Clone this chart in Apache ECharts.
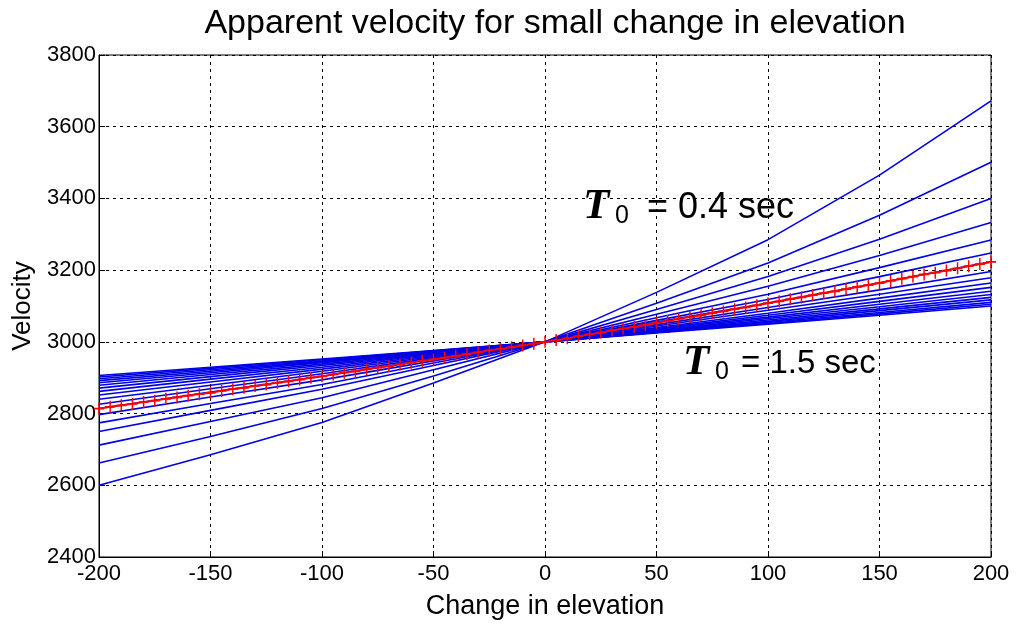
<!DOCTYPE html>
<html>
<head>
<meta charset="utf-8">
<script src="https://cdn.jsdelivr.net/npm/echarts@6/dist/echarts.min.js"></script>
<style>
  html, body { margin: 0; padding: 0; background: #fff; }
  #chart { width: 1017px; height: 625px; }
</style>
</head>
<body>
<div id="chart"></div>
<script>
// elevation change where the blue curves are sampled
const elevations = [-200, -150, -100, -50, 0, 50, 100, 150, 200];

// one blue curve per T0 (sec)
const t0Values = [0.4, 0.5, 0.6, 0.7, 0.8, 0.9, 1.0, 1.1, 1.2, 1.3, 1.4, 1.5, 1.6, 1.7, 1.8, 1.9, 2.0, 2.1];
const blueCurves = [
  [2600, 2685, 2775, 2885, 3000, 3138, 3285, 3465, 3672],
  [2662, 2736, 2814, 2905, 3000, 3108, 3220, 3353, 3501],
  [2712, 2778, 2844, 2922, 3000, 3090, 3182, 3286, 3400],
  [2750, 2809, 2868, 2934, 3000, 3077, 3155, 3241, 3333],
  [2774, 2828, 2881, 2941, 3000, 3067, 3133, 3207, 3284],
  [2797, 2846, 2894, 2947, 3000, 3060, 3118, 3182, 3248],
  [2814, 2860, 2904, 2953, 3000, 3055, 3108, 3165, 3223],
  [2826, 2869, 2911, 2956, 3000, 3048, 3096, 3145, 3196],
  [2840, 2879, 2918, 2959, 3000, 3044, 3088, 3133, 3179],
  [2852, 2888, 2924, 2962, 3000, 3040, 3080, 3122, 3164],
  [2862, 2896, 2929, 2965, 3000, 3037, 3074, 3113, 3152],
  [2871, 2903, 2934, 2967, 3000, 3035, 3069, 3105, 3141],
  [2879, 2909, 2938, 2969, 3000, 3032, 3065, 3098, 3132],
  [2886, 2914, 2942, 2971, 3000, 3030, 3061, 3092, 3124],
  [2892, 2918, 2945, 2972, 3000, 3029, 3057, 3087, 3117],
  [2897, 2922, 2947, 2974, 3000, 3027, 3054, 3082, 3110],
  [2902, 2926, 2950, 2975, 3000, 3026, 3051, 3078, 3105],
  [2906, 2929, 2952, 2976, 3000, 3025, 3049, 3074, 3100]
];

// red reference curve with + markers
const redX = [
  -200, -195, -190, -185, -180, -175, -170, -165, -160, -155,
  -150, -145, -140, -135, -130, -125, -120, -115, -110, -105,
  -100, -95, -90, -85, -80, -75, -70, -65, -60, -55,
  -50, -45, -40, -35, -30, -25, -20, -15, -10, -5,
  0, 5, 10, 15, 20, 25, 30, 35, 40, 45,
  50, 55, 60, 65, 70, 75, 80, 85, 90, 95,
  100, 105, 110, 115, 120, 125, 130, 135, 140, 145,
  150, 155, 160, 165, 170, 175, 180, 185, 190, 195, 200
];
const redY = [
  2814, 2819, 2823, 2827, 2832, 2836, 2841, 2845, 2850, 2854,
  2858, 2863, 2868, 2872, 2877, 2881, 2886, 2890, 2895, 2900,
  2904, 2909, 2914, 2918, 2923, 2928, 2932, 2937, 2942, 2947,
  2951, 2956, 2961, 2966, 2971, 2976, 2980, 2985, 2990, 2995,
  3000, 3005, 3010, 3016, 3021, 3026, 3032, 3037, 3042, 3047,
  3053, 3058, 3064, 3069, 3074, 3080, 3085, 3091, 3096, 3102,
  3108, 3113, 3119, 3124, 3130, 3136, 3141, 3147, 3153, 3158,
  3164, 3170, 3176, 3182, 3188, 3193, 3199, 3205, 3211, 3217, 3223
];

const font = 'Liberation Sans, Arial, sans-serif';

const chart = echarts.init(document.getElementById('chart'), null, { renderer: 'canvas' });

const series = blueCurves.map((vals, i) => ({
  name: 'T0 = ' + t0Values[i],
  type: 'line',
  data: elevations.map((x, j) => [x, vals[j]]),
  showSymbol: false,
  symbol: 'none',
  lineStyle: { color: '#0000e6', width: 1.6 },
  z: 2
}));

series.push({
  name: 'reference',
  type: 'line',
  data: redX.map((x, j) => [x, redY[j]]),
  symbol: 'path://M5,0L5,10M0,5L10,5',
  symbolSize: [10, 12],
  itemStyle: { color: 'none', borderColor: '#ff0000', borderWidth: 1.6 },
  lineStyle: { color: '#ff0000', width: 1.8 },
  z: 3
});

// T0 label: bold italic serif T, subscript 0, then the rest
function t0Label(x, y, rest, size, gap) {
  return {
    type: 'group',
    x: x, y: y,
    children: [
      { type: 'text', x: 0, y: -1, style: { text: 'T', font: 'italic bold 43px Liberation Serif', fill: '#000', textVerticalAlign: 'middle' } },
      { type: 'text', x: 32, y: 8, style: { text: '0', font: '25px ' + font, fill: '#000', textVerticalAlign: 'middle' } },
      { type: 'text', x: gap, y: 0, style: { text: rest, font: size + 'px ' + font, fill: '#000', textVerticalAlign: 'middle' } }
    ]
  };
}

const option = {
  animation: false,
  backgroundColor: '#fff',
  title: {
    text: 'Apparent velocity for small change in elevation',
    left: 550,
    textAlign: 'center',
    top: 2,
    textStyle: { fontFamily: font, fontSize: 34, fontWeight: 'normal', color: '#000' }
  },
  grid: {
    left: 99, right: 26, top: 55, bottom: 65,
    show: true, borderColor: '#000', borderWidth: 1
  },
  xAxis: {
    type: 'value',
    min: -200, max: 200, interval: 50,
    name: 'Change in elevation',
    nameLocation: 'middle',
    nameGap: 36,
    nameTextStyle: { fontFamily: font, fontSize: 27, color: '#000' },
    axisLine: { show: true, onZero: false, lineStyle: { color: '#000', width: 1 } },
    axisTick: { show: true, inside: true, length: 6, lineStyle: { color: '#000' } },
    axisLabel: { fontFamily: font, fontSize: 22, color: '#000', margin: 6 },
    splitLine: { show: true, lineStyle: { color: '#000', type: [3, 4], width: 1 } }
  },
  yAxis: {
    type: 'value',
    min: 2400, max: 3800, interval: 200,
    name: 'Velocity',
    nameLocation: 'middle',
    nameGap: 56,
    nameRotate: 90,
    nameTextStyle: { fontFamily: font, fontSize: 26, color: '#000' },
    axisLine: { show: true, onZero: false, lineStyle: { color: '#000', width: 1 } },
    axisTick: { show: true, inside: true, length: 6, lineStyle: { color: '#000' } },
    axisLabel: { fontFamily: font, fontSize: 22, color: '#000', margin: 3, formatter: v => String(v) },
    splitLine: { show: true, lineStyle: { color: '#000', type: [3, 4], width: 1 } }
  },
  graphic: [
    t0Label(583, 208, '= 0.4 sec', 36, 64),
    t0Label(683, 364, '= 1.5 sec', 33, 58)
  ],
  series: series
};

chart.setOption(option);
</script>
</body>
</html>
